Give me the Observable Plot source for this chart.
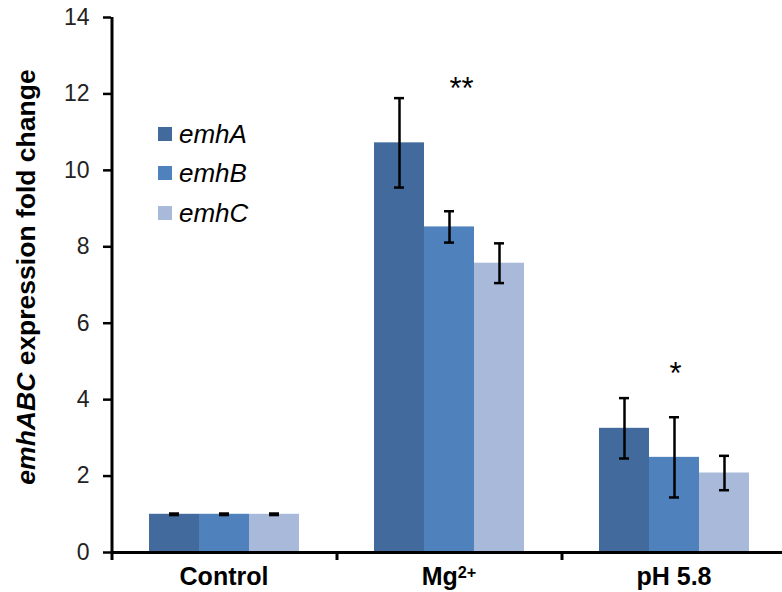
<!DOCTYPE html>
<html><head><meta charset="utf-8">
<script src="https://cdn.jsdelivr.net/npm/d3@7"></script>
<script src="https://cdn.jsdelivr.net/npm/@observablehq/plot@0.6"></script>
<style>
body{margin:0;background:#fff;}
#wrap{position:relative;width:782px;height:592px;font-family:"Liberation Sans",Arial,sans-serif;}
.leg{position:absolute;left:158px;display:flex;align-items:center;font-style:italic;font-size:26px;color:#000;line-height:1;}
.leg span.sw{display:inline-block;width:14px;height:14px;margin-right:7px;}
</style></head><body><div id="wrap"></div>
<script>
const categories = ["Control", "Mg2+", "pH 5.8"];
const genes = ["emhA", "emhB", "emhC"];
const emhA = [1.00, 10.72, 3.25];
const emhB = [1.00, 8.52, 2.49];
const emhC = [1.00, 7.57, 2.08];
const emhAErr = [0.02, 1.17, 0.79];
const emhBErr = [0.02, 0.41, 1.05];
const emhCErr = [0.02, 0.52, 0.45];
const colors = ["#426A9C", "#4F81BD", "#A9B9D9"];
const yTicks = [0, 2, 4, 6, 8, 10, 12, 14];
const starCategories = ["Mg2+", "pH 5.8"];
const starLabels = ["**", "*"];
const starLevels = [12.3, 4.85];
const yLabelItalic = "emhABC";
const yLabelRest = " expression fold change";

const values = [emhA, emhB, emhC];
const errs = [emhAErr, emhBErr, emhCErr];
const rows = categories.flatMap((c, i) => genes.map((g, j) => ({category: c, gene: g, value: values[j][i], err: errs[j][i]})));
const stars = starCategories.map((c, i) => ({category: c, label: starLabels[i], y: starLevels[i]}));
const bounds = categories.map(c => ({category: c}));

const plot = Plot.plot({
  width: 782, height: 592,
  marginLeft: 110, marginRight: -5, marginTop: 17, marginBottom: 40,
  style: {fontFamily: "'Liberation Sans', Arial, sans-serif", background: "#fff", overflow: "visible"},
  fx: {domain: categories, padding: 0, label: null},
  x: {domain: genes, paddingInner: 0, paddingOuter: 0.75, axis: null},
  y: {domain: [0, 14], axis: null},
  color: {domain: genes, range: colors},
  marks: [
    Plot.barY(rows, {fx: "category", x: "gene", y: "value", fill: "gene"}),
    Plot.ruleX(rows, {fx: "category", x: "gene", y1: d => d.value - d.err, y2: d => d.value + d.err, stroke: "#000", strokeWidth: 2.5}),
    Plot.tickY(rows, {fx: "category", x: "gene", y: d => d.value + d.err, stroke: "#000", strokeWidth: 2.5, insetLeft: 20, insetRight: 20}),
    Plot.tickY(rows, {fx: "category", x: "gene", y: d => d.value - d.err, stroke: "#000", strokeWidth: 2.5, insetLeft: 20, insetRight: 20}),
    Plot.ruleY([0], {stroke: "#000", strokeWidth: 3}),
    Plot.ruleX(bounds, {fx: "category", x: () => "emhA", dx: -62.5, y1: 0, y2: 0, insetBottom: -8, stroke: "#000", strokeWidth: 3}),
    Plot.ruleX([{category: categories[0]}], {fx: "category", x: () => "emhA", dx: -62.5, y1: 0, y2: 14, stroke: "#000", strokeWidth: 3}),
    Plot.axisY({ticks: yTicks, tickSize: 8, tickPadding: 14, fontSize: 23, label: null, stroke: "#000", strokeWidth: 2.5, fill: "#222"}),
    Plot.axisFx({anchor: "bottom", tickSize: 0, tickPadding: 15, fontSize: 25, fontWeight: "bold", label: null, fill: "#000"}),
    Plot.text(stars.slice(0, 1), {fx: "category", x: () => "emhB", y: "y", text: "label", fontSize: 31, dx: 12, dy: 7, fill: "#000"}),
    Plot.text(stars.slice(1), {fx: "category", x: () => "emhB", y: "y", text: "label", fontSize: 31, dx: 1, dy: 7, fill: "#000"})
  ]
});
document.getElementById("wrap").appendChild(plot);

const svg = d3.select(plot);
// superscript for Mg2+
svg.selectAll("text").filter(function(){ return this.textContent === "Mg2+"; }).each(function(){
  const t = d3.select(this);
  t.text("Mg");
  t.append("tspan").attr("dy", "-0.45em").attr("font-size", "65%").text("2+");
});
// y label with italic part
const yl = svg.append("text")
  .attr("transform", "translate(35,277) rotate(-90)")
  .attr("text-anchor", "middle")
  .attr("font-size", 26.5).attr("font-weight", "bold").attr("fill", "#000");
yl.append("tspan").attr("font-style", "italic").text(yLabelItalic);
yl.append("tspan").text(yLabelRest);

// legend
const wrap = document.getElementById("wrap");
const colorScale = plot.scale("color");
const legendTops = [121, 160, 200];
genes.forEach((g, i) => {
  const div = document.createElement("div");
  div.className = "leg";
  div.style.top = legendTops[i] + "px";
  div.innerHTML = `<span class="sw" style="background:${colorScale.range[i]}"></span><span>${g}</span>`;
  wrap.appendChild(div);
});
</script></body></html>
